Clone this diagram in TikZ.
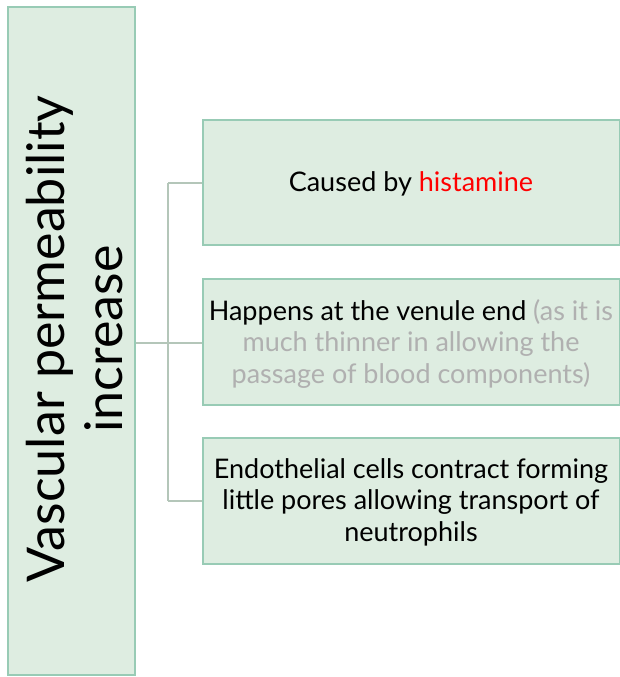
\documentclass[tikz,border=0pt]{standalone}
\usepackage{fontspec}
\setmainfont{Lato}
\definecolor{boxfill}{HTML}{DEEDE1}
\definecolor{boxline}{HTML}{98CBB5}
\definecolor{connline}{HTML}{B4C6B9}
\definecolor{greytext}{HTML}{B0B0B0}
\begin{document}
\begin{tikzpicture}[x=1pt,y=-1pt,
  gbox/.style={draw=boxline,fill=boxfill,line width=2pt,inner sep=0pt},
  conn/.style={draw=connline,line width=2pt},
  txt/.style={align=center,font=\fontsize{27}{31.5}\selectfont,text=black}]
\useasboundingbox (0,0) rectangle (620,677);
\draw[conn] (135,343) -- (168,343);
\draw[conn] (168,183) -- (168,501);
\draw[conn] (168,183) -- (203,183);
\draw[conn] (168,343) -- (203,343);
\draw[conn] (168,501) -- (203,501);
\node[gbox,minimum width=127pt,minimum height=668pt] (main) at (71.5,341) {};
\node[rotate=90,align=center,font=\fontsize{52}{58}\selectfont] (maintxt) at (75,339) {Vascular permeability\\increase};
\node[gbox,minimum width=417pt,minimum height=125pt] (b1) at (411,182.5) {};
\node[gbox,minimum width=417pt,minimum height=126pt] (b2) at (411,342) {};
\node[gbox,minimum width=417pt,minimum height=126pt] (b3) at (411,501) {};
\node[txt] (t1) at ([yshift=-1pt]b1.center) {Caused by \textcolor{red}{histamine}};
\node[txt] (t2) at ([yshift=-1.5pt]b2.center) {Happens at the venule end \textcolor{greytext}{(as it is}\\\textcolor{greytext}{much thinner in allowing the}\\\textcolor{greytext}{passage of blood components)}};
\node[txt] (t3) at ([yshift=-1pt]b3.center) {Endothelial cells contract forming\\little pores allowing transport of\\neutrophils};
\end{tikzpicture}
\end{document}
